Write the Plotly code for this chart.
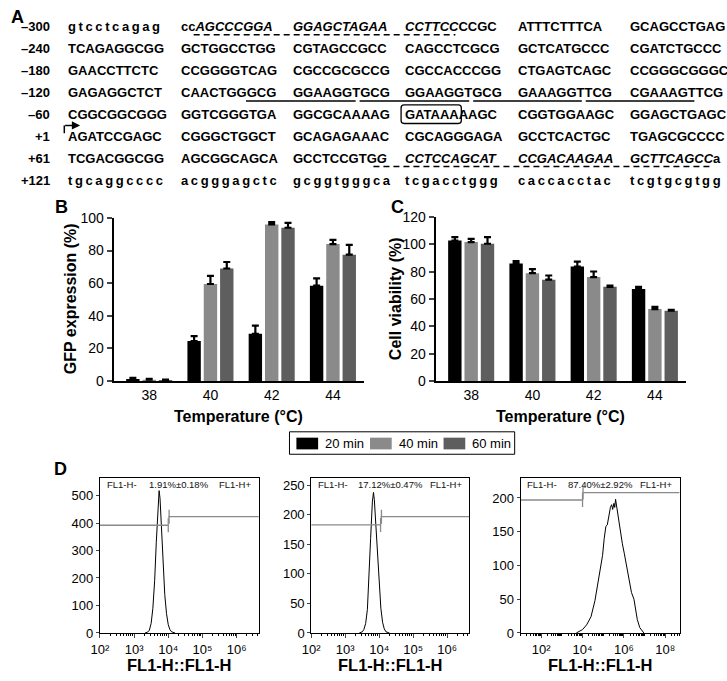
import plotly.graph_objects as go

W, H = 727, 681
FONT = "Liberation Sans, Arial, sans-serif"
SUP = {"2": "²", "3": "³", "4": "⁴", "5": "⁵", "6": "⁶", "8": "⁸"}


def px(x):
    return x / W


def py(y):
    return 1 - y / H


# ---------------- data ----------------
position_labels = ["–300", "–240", "–180", "–120", "–60", "+1", "+61", "+121"]
sequence_rows = [
    ["gtcctcagag", "cc<i>AGCCCGGA</i>", "<i>GGAGCTAGAA</i>", "<i>CCTTCC</i>CCGC", "ATTTCTTTCA", "GCAGCCTGAG"],
    ["TCAGAGGCGG", "GCTGGCCTGG", "CGTAGCCGCC", "CAGCCTCGCG", "GCTCATGCCC", "CGATCTGCCC"],
    ["GAACCTTCTC", "CCGGGGTCAG", "CGCCGCGCCG", "CGCCACCCGG", "CTGAGTCAGC", "CCGGGCGGGC"],
    ["GAGAGGCTCT", "CAACTGGGCG", "GGAAGGTGCG", "GGAAGGTGCG", "GAAAGGTTCG", "CGAAAGTTCG"],
    ["CGGCGGCGGG", "GGTCGGGTGA", "GGCGCAAAAG", "GATAAAAAGC", "CGGTGGAAGC", "GGAGCTGAGC"],
    ["AGATCCGAGC", "CGGGCTGGCT", "GCAGAGAAAC", "CGCAGGGAGA", "GCCTCACTGC", "TGAGCGCCCC"],
    ["TCGACGGCGG", "AGCGGCAGCA", "GCCTCCGTG<i>G</i>", "<i>CCTCCAGCAT</i>", "<i>CCGACAAGAA</i>", "<i>GCTTCAGCC</i>a"],
    ["tgcaggcccc", "acgggagctc", "gcggtgggca", "tcgacctggg", "caccacctac", "tcgtgcgtgg"],
]

temperatures = ["38", "40", "42", "44"]
series_names = ["20 min", "40 min", "60 min"]
gfp_mean = [[1.2, 24.5, 29.0, 58.5], [0.8, 59.5, 96.0, 84.0], [0.6, 69.0, 94.0, 77.5]]
gfp_err = [[0.8, 3.0, 5.0, 4.5], [0.5, 5.0, 1.5, 2.5], [0.3, 4.0, 3.0, 6.0]]
viab_mean = [[102.8, 86.0, 83.7, 67.4], [101.6, 78.9, 76.0, 52.6], [100.4, 74.1, 68.9, 51.4]]
viab_err = [[2.4, 1.7, 3.6, 1.5], [2.4, 2.9, 4.1, 1.7], [4.8, 3.1, 0.9, 0.7]]

# flow cytometry histograms (FL1-H intensity, cell count)
flow1_x = [2100, 2500, 2800, 3160, 3550, 4000, 4470, 5000, 5400, 5750, 6300, 7100, 7900, 8900, 10000, 11200, 12600, 15800]
flow1_y = [0, 3, 10, 35, 90, 190, 330, 480, 518, 490, 390, 255, 140, 70, 30, 12, 4, 0]
flow2_x = [2600, 3200, 3550, 4000, 4500, 5000, 5600, 6300, 6800, 7200, 7900, 8900, 10000, 11200, 12600, 14100, 15800, 20000]
flow2_y = [0, 2, 6, 16, 40, 88, 160, 222, 238, 226, 190, 130, 80, 42, 18, 7, 2, 0]
flow3_x = [5000, 10000, 15800, 25700, 40000, 53700, 70800, 93300, 112000, 135000, 158000, 195000, 224000,
           257000, 288000, 331000, 363000, 398000, 437000, 479000, 562000, 692000, 851000, 1050000,
           1350000, 1780000, 2340000, 3090000, 3720000, 4470000, 5890000, 7760000, 9330000]
flow3_y = [0, 5, 12, 24, 48, 72, 95, 115, 140, 158, 160, 178, 186,
           190, 183, 192, 186, 198, 190, 176, 165, 150, 132, 118,
           98, 77, 60, 50, 35, 20, 8, 2, 0]
flow_pct = ["1.91%±0.18%", "17.12%±0.47%", "87.40%±2.92%"]
gate_threshold = [10000, 11000, 10000]
gate_neg_level = [392, 183, 197]
gate_pos_level = [423, 197, 208]
flow_yticks = [[0, 100, 200, 300, 400, 500], [0, 50, 100, 150, 200, 250], [0, 50, 100, 150, 200]]
flow_xtick_exp = [[2, 3, 4, 5, 6], [2, 3, 4, 5, 6], [2, 4, 6, 8]]

# ---------------- figure ----------------
fig = go.Figure()
colors = ["#000000", "#8a8a8a", "#5e5e5e"]

for i, name in enumerate(series_names):
    fig.add_trace(go.Bar(
        x=temperatures, y=gfp_mean[i], name=name, marker=dict(color=colors[i], line=dict(width=0)),
        error_y=dict(type="data", array=gfp_err[i], arrayminus=[0] * 4, symmetric=False,
                     color="black", thickness=2.2, width=3.5),
        xaxis="x", yaxis="y", showlegend=False))
    fig.add_trace(go.Bar(
        x=temperatures, y=viab_mean[i], name=name, marker=dict(color=colors[i], line=dict(width=0)),
        error_y=dict(type="data", array=viab_err[i], arrayminus=[0] * 4, symmetric=False,
                     color="black", thickness=2.2, width=3.5),
        xaxis="x2", yaxis="y2", showlegend=False))

flows = [(flow1_x, flow1_y), (flow2_x, flow2_y), (flow3_x, flow3_y)]
x_ranges = [[2, 6.65], [2, 6.65], [1, 8.7]]
y_ranges = [[0, 565], [0, 263], [0, 230]]
d_domains = [(92, 253), (306, 466), (518, 679)]

for k in range(3):
    xa = f"x{k + 3}"
    ya = f"y{k + 3}"
    fx, fy = flows[k]
    fig.add_trace(go.Scatter(x=fx, y=fy, mode="lines", line=dict(color="black", width=1),
                             xaxis=xa, yaxis=ya, showlegend=False, hoverinfo="skip"))
    xmin = 10 ** x_ranges[k][0]
    xmax = 10 ** x_ranges[k][1]
    thr = gate_threshold[k]
    dy = 0.045 * y_ranges[k][1]
    ln, lp = gate_neg_level[k], gate_pos_level[k]
    fig.add_trace(go.Scatter(
        x=[xmin, thr, None, thr, thr, None, thr, xmax, None, thr * 1.06, thr * 1.06],
        y=[ln, ln, None, ln - dy, ln + dy, None, lp, lp, None, lp - dy, lp + dy],
        mode="lines", line=dict(color="#8a8a8a", width=1.3),
        xaxis=xa, yaxis=ya, showlegend=False, hoverinfo="skip"))

layout = dict(
    width=W, height=H, margin=dict(l=0, r=0, t=0, b=0),
    paper_bgcolor="white", plot_bgcolor="white",
    font=dict(family=FONT, color="black"),
    barmode="group", bargap=0.2, bargroupgap=0.18,
    showlegend=False,
)

common_bar_x = dict(type="category", showline=True, linecolor="black", linewidth=2, ticks="",
                    showgrid=False, zeroline=False, tickfont=dict(size=14, family=FONT),
                    range=[-0.58, 3.5], fixedrange=True)
common_bar_y = dict(showline=True, linecolor="black", linewidth=2, ticks="outside", ticklen=5,
                    tickwidth=1.5, showgrid=False, zeroline=False,
                    tickfont=dict(size=14, family=FONT), fixedrange=True)

layout["xaxis"] = dict(common_bar_x, domain=[px(106), px(359)], anchor="y")
layout["yaxis"] = dict(common_bar_y, domain=[py(382), py(215)], anchor="x", range=[0, 100], dtick=20)
layout["xaxis2"] = dict(common_bar_x, domain=[px(432), px(685)], anchor="y2")
layout["yaxis2"] = dict(common_bar_y, domain=[py(382), py(214)], anchor="x2", range=[0, 120], dtick=20)

for k in range(3):
    d0, d1 = d_domains[k]
    exps = flow_xtick_exp[k]
    layout[f"xaxis{k + 3}"] = dict(
        type="log", domain=[px(d0), px(d1)], anchor=f"y{k + 3}", range=x_ranges[k],
        showline=True, mirror=True, linecolor="black", linewidth=1,
        ticks="outside", ticklen=4, tickwidth=1, showgrid=False, zeroline=False,
        tickmode="array", tickvals=[10 ** e for e in exps],
        ticktext=["10" + SUP[str(e)] for e in exps],
        tickfont=dict(size=13, family=FONT),
        minor=dict(ticks="outside", ticklen=2.5, tickwidth=0.8, tickcolor="black", dtick="D1", showgrid=False),
        fixedrange=True)
    layout[f"yaxis{k + 3}"] = dict(
        domain=[py(640), py(481)], anchor=f"x{k + 3}", range=y_ranges[k],
        showline=True, mirror=True, linecolor="black", linewidth=1,
        ticks="outside", ticklen=3, tickwidth=1, showgrid=False, zeroline=False,
        tickmode="array", tickvals=flow_yticks[k],
        tickfont=dict(size=13, family=FONT), fixedrange=True)

fig.update_layout(**layout)

ann = []
shapes = []

# ---- panel A: promoter sequence ----
row_y = [19 + 22.45 * r for r in range(8)]
group_x = [58 + 113.8 * g for g in range(6)]
for r, (lab, groups) in enumerate(zip(position_labels, sequence_rows)):
    ann.append(dict(x=px(44), y=py(row_y[r]), xref="paper", yref="paper", xanchor="right", yanchor="middle",
                    text=f"<b>{lab}</b>", showarrow=False, font=dict(size=13, family=FONT)))
    for g, txt in enumerate(groups):
        if txt.isalpha() and txt.islower():
            txt = "\u2009".join(txt)
        ann.append(dict(x=px(group_x[g]), y=py(row_y[r]), xref="paper", yref="paper", xanchor="left",
                        yanchor="middle", text=f"<b>{txt}</b>", showarrow=False,
                        font=dict(size=13, family=FONT)))

# dashed underlines (rows -300 and +61)
for (a, b, r) in [(187, 452, 0), (369, 712, 6)]:
    shapes.append(dict(type="line", xref="paper", yref="paper", x0=px(a), x1=px(b),
                       y0=py(row_y[r] + 8.5), y1=py(row_y[r] + 8.5),
                       line=dict(color="black", width=1.5, dash="6px,4px")))
# solid underlines (row -120)
for (a, b) in [(240, 351), (355, 466), (470, 580), (584, 694)]:
    shapes.append(dict(type="line", xref="paper", yref="paper", x0=px(a), x1=px(b),
                       y0=py(row_y[3] + 9), y1=py(row_y[3] + 9),
                       line=dict(color="black", width=1.5)))
# rounded box around GATAAA
bx0, bx1 = 397, 458
by0, by1 = row_y[4] - 9.5, row_y[4] + 9.5
rr = 3


def P(x, y):
    return f"{px(x):.5f},{py(y):.5f}"


path = (f"M{P(bx0 + rr, by0)} L{P(bx1 - rr, by0)} Q{P(bx1, by0)} {P(bx1, by0 + rr)} "
        f"L{P(bx1, by1 - rr)} Q{P(bx1, by1)} {P(bx1 - rr, by1)} L{P(bx0 + rr, by1)} "
        f"Q{P(bx0, by1)} {P(bx0, by1 - rr)} L{P(bx0, by0 + rr)} Q{P(bx0, by0)} {P(bx0 + rr, by0)} Z")
shapes.append(dict(type="path", xref="paper", yref="paper", path=path,
                   line=dict(color="black", width=1.3)))
# transcription start arrow
shapes.append(dict(type="line", xref="paper", yref="paper", x0=px(56), x1=px(56),
                   y0=py(row_y[5] - 3), y1=py(row_y[5] - 11), line=dict(color="black", width=1.5)))
ann.append(dict(x=px(72), y=py(row_y[5] - 11), xref="paper", yref="paper", text="", showarrow=True,
                ax=-16.5, ay=0, arrowhead=2, arrowsize=1.1, arrowwidth=1.5, arrowcolor="black", standoff=0))

# ---- panel letters ----
for letter, x, y in [("A", 0, 9), ("B", 45, 204), ("C", 385, 204), ("D", 44, 472)]:
    ann.append(dict(x=px(x), y=py(y), xref="paper", yref="paper", xanchor="left", yanchor="middle",
                    text=f"<b>{letter}</b>", showarrow=False, font=dict(size=18, family=FONT)))

# ---- axis titles B / C ----
for text, x in [("GFP expression (%)", 63), ("Cell viability (%)", 392)]:
    ann.append(dict(x=px(x), y=py(298), xref="paper", yref="paper", xanchor="center", yanchor="middle",
                    text=f"<b>{text}</b>", textangle=-90, showarrow=False, font=dict(size=16, family=FONT)))
for x in [232.5, 558.5]:
    ann.append(dict(x=px(x), y=py(418), xref="paper", yref="paper", xanchor="center", yanchor="middle",
                    text="<b>Temperature (°C)</b>", showarrow=False, font=dict(size=16, family=FONT)))

# ---- legend ----
shapes.append(dict(type="rect", xref="paper", yref="paper", x0=px(284), x1=px(512), y0=py(457), y1=py(434),
                   line=dict(color="black", width=1), fillcolor="white"))
for i, name in enumerate(series_names):
    sx = 291 + 74.5 * i
    shapes.append(dict(type="rect", xref="paper", yref="paper", x0=px(sx), x1=px(sx + 22),
                       y0=py(452), y1=py(440), line=dict(width=0), fillcolor=colors[i]))
    ann.append(dict(x=px(sx + 27), y=py(446), xref="paper", yref="paper", xanchor="left", yanchor="middle",
                    text=name, showarrow=False, font=dict(size=13, family=FONT)))

# ---- panel D texts ----
for k in range(3):
    xr = f"x{k + 3} domain"
    yr = f"y{k + 3} domain"
    for text, xx, anchor in [("FL1-H-", 0.03, "left"), (flow_pct[k], 0.5, "center"), ("FL1-H+", 0.965, "right")]:
        ann.append(dict(x=xx, y=0.955, xref=xr, yref=yr, xanchor=anchor, yanchor="middle", text=text,
                        showarrow=False, font=dict(size=9.5, family=FONT, color="#111")))
    d0, d1 = d_domains[k]
    ann.append(dict(x=px((d0 + d1) / 2), y=py(673), xref="paper", yref="paper", xanchor="center",
                    yanchor="middle", text="<b>FL1-H::FL1-H</b>", showarrow=False,
                    font=dict(size=16.5, family=FONT)))

fig.update_layout(annotations=ann, shapes=shapes)
fig.write_html("out.html", config={"displayModeBar": False},
               post_script="document.body.style.margin='0';document.body.style.padding='0';")
